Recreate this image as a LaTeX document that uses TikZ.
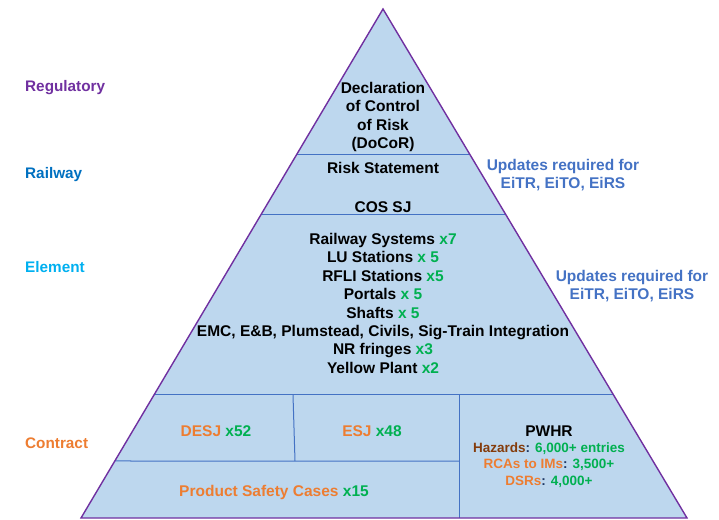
\documentclass[tikz,border=0pt]{standalone}
\usepackage{fontspec}
\setmainfont{Liberation Sans}
\usetikzlibrary{calc}
\definecolor{pfill}{HTML}{BDD7EE}
\definecolor{pedge}{HTML}{7030A0}
\definecolor{pdiv}{HTML}{4472C4}
\definecolor{cgreen}{HTML}{00B050}
\definecolor{corange}{HTML}{ED7D31}
\definecolor{cbrown}{HTML}{843C0C}
\definecolor{cnavy}{HTML}{1F3864}
\definecolor{creg}{HTML}{7030A0}
\definecolor{crail}{HTML}{0070C0}
\definecolor{celem}{HTML}{00B0F0}
\definecolor{cupd}{HTML}{4472C4}
\begin{document}
\begin{tikzpicture}[x=1pt,y=-1pt,
  txt/.style={font=\fontsize{15.5}{18}\selectfont\bfseries, inner sep=0pt, anchor=base},
  small/.style={font=\fontsize{13.5}{16}\selectfont\bfseries, inner sep=0pt, anchor=base},
  lbl/.style={font=\fontsize{15.3}{18}\selectfont\bfseries, inner sep=0pt, anchor=base west},
  divline/.style={draw=pdiv, line width=1pt},
  edge/.style={draw=pedge, line width=1.4pt, line join=miter}]
\useasboundingbox (0,0) rectangle (719,519);
\coordinate (apex) at (383,9);
\coordinate (bl) at (81,518);
\coordinate (br) at (687,518);
\fill[pfill] (apex) -- (bl) -- (br) -- cycle;
% dividers
\coordinate (l1) at ($(apex)!0.2868!(bl)$);
\coordinate (r1) at ($(apex)!0.2868!(br)$);
\coordinate (l2) at ($(apex)!0.4047!(bl)$);
\coordinate (r2) at ($(apex)!0.4047!(br)$);
\coordinate (l3) at ($(apex)!0.7583!(bl)$);
\coordinate (r3) at ($(apex)!0.7583!(br)$);
\coordinate (l4) at ($(apex)!0.8880!(bl)$);
\coordinate (v1t) at (293,395);
\coordinate (v1b) at (295,461);
\coordinate (v2t) at (459,395);
\coordinate (v2m) at (459,461);
\coordinate (v2b) at (459,518);
\draw[divline] (l1) -- (r1);
\draw[divline] (l2) -- (r2);
\draw[divline] (l3) -- (r3);
\draw[divline] (l4) -- (v2m);
\draw[divline] (v1t) -- (v1b);
\draw[divline] (v2t) -- (v2b);
\draw[edge] (apex) -- (bl) -- (br) -- cycle;
% Regulatory block
\node[txt] (d1) at (383,93.4) {Declaration};
\node[txt] (d2) at (383,111.9) {of Control};
\node[txt] (d3) at (383,130.4) {of Risk};
\node[txt] (d4) at (383,148.9) {(DoCoR)};
% Railway block
\node[txt] (rs) at (383,173.4) {Risk Statement};
\node[txt] (cos) at (383,212.4) {COS SJ};
% Element block
\node[txt] (e1) at (383,244.4) {Railway Systems \textcolor{cgreen}{x7}};
\node[txt] (e2) at (383,262.8) {LU Stations \textcolor{cgreen}{x 5}};
\node[txt] (e3) at (383,281.2) {RFLI Stations \textcolor{cgreen}{x5}};
\node[txt] (e4) at (383,299.6) {Portals \textcolor{cgreen}{x 5}};
\node[txt] (e5) at (383,318.0) {Shafts \textcolor{cgreen}{x 5}};
\node[txt] (e6) at (383,336.4) {EMC, E\&B, Plumstead, Civils, Sig-Train Integration};
\node[txt] (e7) at (383,354.8) {NR fringes \textcolor{cgreen}{x3}};
\node[txt] (e8) at (383,373.2) {Yellow Plant \textcolor{cgreen}{x2}};
% Contract block
\node[txt] (desj) at (216,436.4) {\textcolor{corange}{DESJ} \textcolor{cgreen}{x52}};
\node[txt] (esj) at (372,436.4) {\textcolor{corange}{ESJ} \textcolor{cgreen}{x48}};
\node[txt] (psc) at (274,496.4) {\textcolor{corange}{Product Safety Cases} \textcolor{cgreen}{x15}};
\node[txt] (pwhr) at (549,436.4) {PWHR};
\node[small] (haz) at (549,452.8) {\textcolor{cbrown}{Hazards}\textcolor{cnavy}{:} \textcolor{cgreen}{6,000+ entries}};
\node[small] (rca) at (549,468.8) {\textcolor{corange}{RCAs to IMs}\textcolor{cnavy}{:} \textcolor{cgreen}{3,500+}};
\node[small] (dsr) at (549,485.8) {\textcolor{corange}{DSRs}\textcolor{cnavy}{:} \textcolor{cgreen}{4,000+}};
% Left labels
\node[lbl, text=creg] (lreg) at (25,91.5) {Regulatory};
\node[lbl, text=crail] (lrail) at (25,178.5) {Railway};
\node[lbl, text=celem] (lelem) at (25,272.4) {Element};
\node[lbl, text=corange] (lcon) at (25,448.4) {Contract};
% Right labels
\node[txt, text=cupd] (u1a) at (563,170.8) {Updates required for};
\node[txt, text=cupd] (u1b) at (563,188.4) {EiTR, EiTO, EiRS};
\node[txt, text=cupd] (u2a) at (632,281.8) {Updates required for};
\node[txt, text=cupd] (u2b) at (632,299.4) {EiTR, EiTO, EiRS};
\end{tikzpicture}
\end{document}
